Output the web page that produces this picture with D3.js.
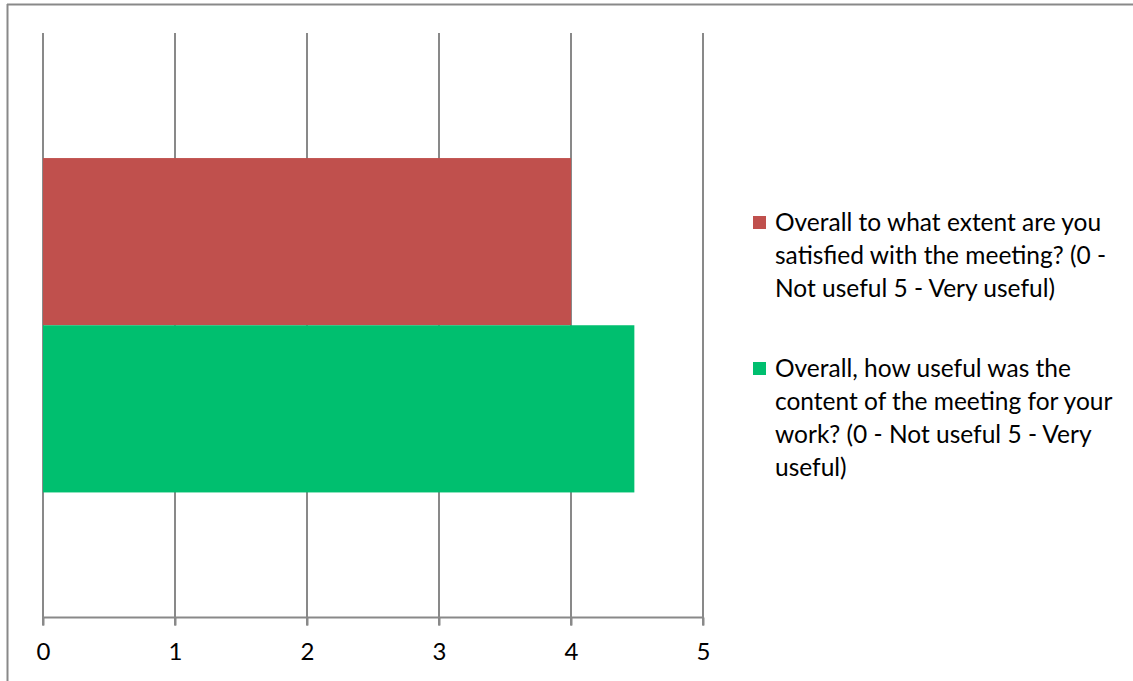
<!DOCTYPE html>
<html><head><meta charset="utf-8">
<script src="https://cdn.jsdelivr.net/npm/d3@7"></script>
<style>body{margin:0;background:#fff}svg{display:block}</style>
</head><body>
<script>
const seriesNames = [
  "Overall to what extent are you satisfied with the meeting? (0 - Not useful 5 - Very useful)",
  "Overall, how useful was the content of the meeting for your work? (0 - Not useful 5 - Very useful)"
];
const seriesValues = [4.0, 4.48];
const seriesColors = ["#C0504D", "#00BF6F"];
const legendLines = [
  ["Overall to what extent are you", "satisfied with the meeting? (0 -", "Not useful 5 - Very useful)"],
  ["Overall, how useful was the", "content of the meeting for your", "work? (0 - Not useful 5 - Very", "useful)"]
];
const xTicks = [0, 1, 2, 3, 4, 5];

const W = 1133, H = 681;
const svg = d3.select("body").append("svg").attr("width", W).attr("height", H);
const font = "Lato, 'Open Sans', sans-serif";
const gray = "#898989";

// outer border (top and left visible)
svg.append("line").attr("x1", 7).attr("y1", 4.5).attr("x2", W).attr("y2", 4.5).attr("stroke", gray).attr("stroke-width", 2);
svg.append("line").attr("x1", 7.5).attr("y1", 4).attr("x2", 7.5).attr("y2", H).attr("stroke", gray).attr("stroke-width", 2);

const plot = {left: 43, right: 703, top: 33, bottom: 617.5};
const x = d3.scaleLinear().domain([0, 5]).range([plot.left, plot.right]);
const band = d3.scaleBand().domain(["c"]).range([plot.top, plot.bottom]).paddingInner(0).paddingOuter(0.374);
const y = d3.scaleBand().domain(d3.range(seriesValues.length)).range([band("c"), band("c") + band.bandwidth()]);

// gridlines
svg.append("g").selectAll("line").data(xTicks).join("line")
  .attr("x1", d => x(d)).attr("x2", d => x(d))
  .attr("y1", plot.top).attr("y2", plot.bottom + 8)
  .attr("stroke", gray).attr("stroke-width", 2);

// bars
svg.append("g").selectAll("rect").data(seriesValues).join("rect")
  .attr("x", x(0)).attr("y", (d, i) => y(i))
  .attr("width", d => x(d) - x(0)).attr("height", y.bandwidth())
  .attr("fill", (d, i) => seriesColors[i]);

// x axis
const ax = svg.append("g").attr("transform", `translate(0,${plot.bottom})`)
  .call(d3.axisBottom(x).tickValues(xTicks).tickSize(8).tickPadding(17).tickFormat(d3.format("d")));
ax.select(".domain").attr("stroke", gray).attr("stroke-width", 2).attr("d", `M${plot.left},0H${plot.right}`);
ax.selectAll(".tick line").attr("stroke", gray).attr("stroke-width", 2);
ax.selectAll(".tick text").attr("font-family", font).attr("font-size", 24).attr("fill", "#000");

// legend
const legendTops = [222, 368];
legendLines.forEach((lines, i) => {
  const g = svg.append("g");
  g.append("rect").attr("x", 753).attr("y", legendTops[i] - 6).attr("width", 13).attr("height", 13).attr("fill", seriesColors[i]);
  lines.forEach((t, j) => {
    g.append("text").attr("x", 775).attr("y", legendTops[i] + j * 33).attr("dy", "0.35em")
      .attr("font-family", font).attr("font-size", 24.5).attr("fill", "#000").text(t);
  });
});
</script>
</body></html>
